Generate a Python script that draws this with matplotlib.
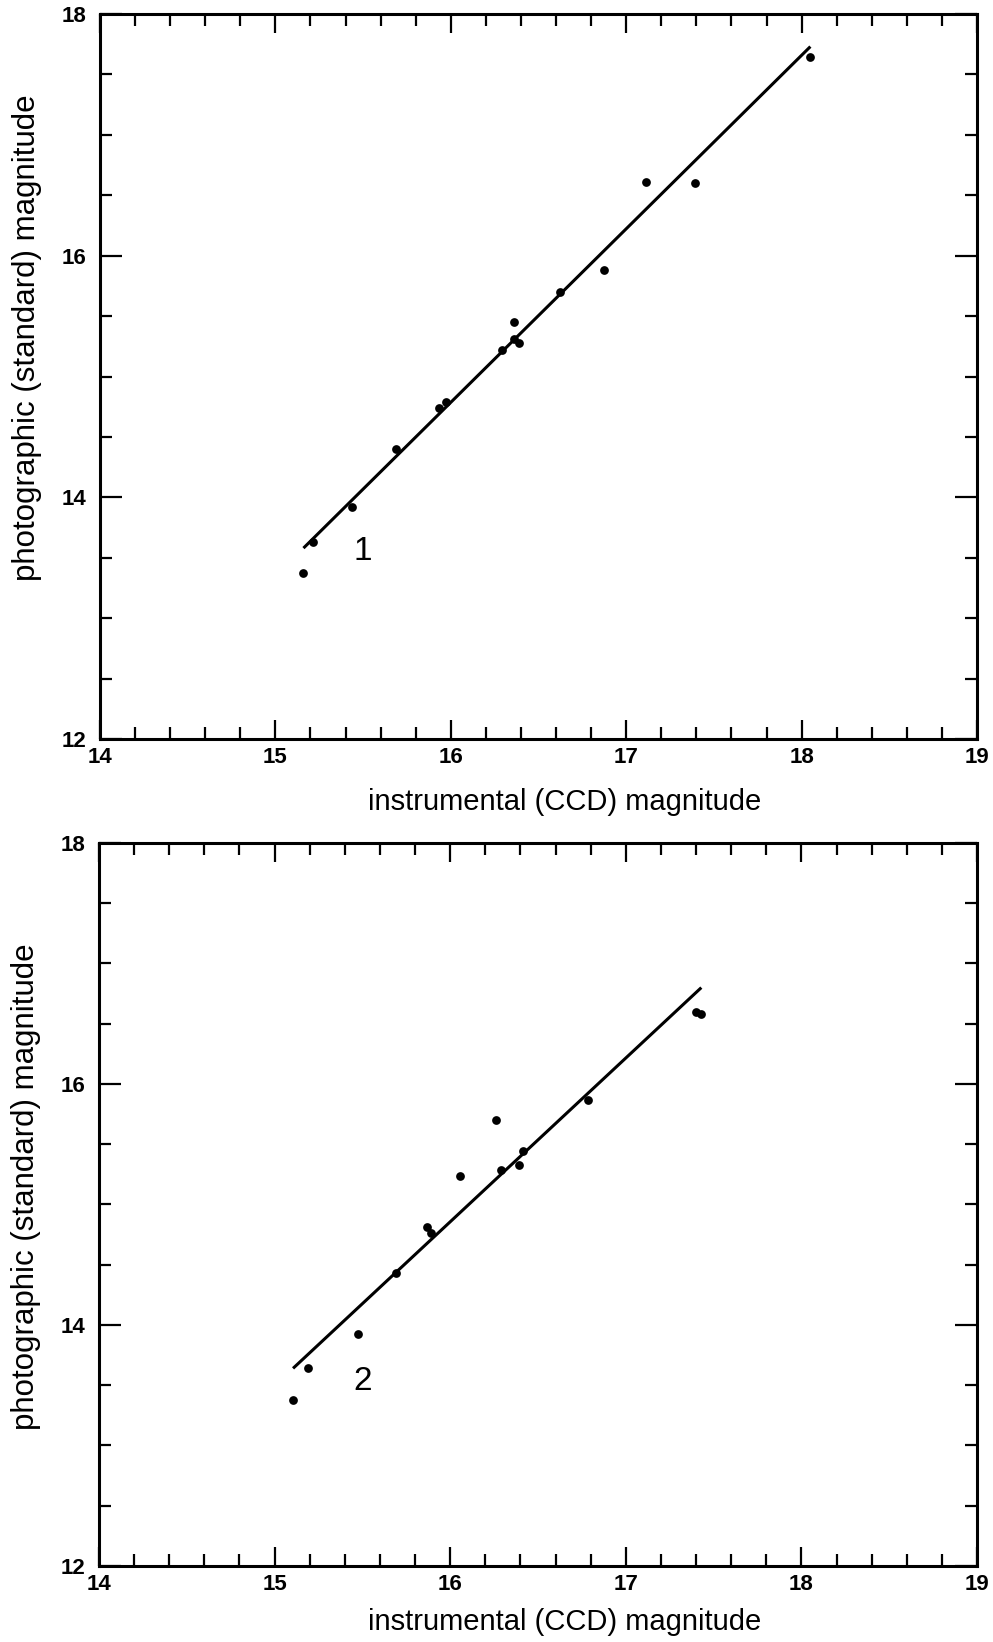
import matplotlib
matplotlib.use("Agg")
import matplotlib.pyplot as plt
from matplotlib.ticker import MultipleLocator

plt.rcParams['font.family'] = ['Liberation Sans', 'DejaVu Sans']

# Panel 1 data
ccd1 = [15.16, 15.215, 15.435, 15.69, 15.93, 15.97, 16.29, 16.36, 16.36, 16.39,
        16.62, 16.875, 17.11, 17.39, 18.05]
pg1 = [13.37, 13.63, 13.92, 14.40, 14.74, 14.79, 15.22, 15.45, 15.31, 15.28,
       15.70, 15.88, 16.61, 16.60, 17.64]
fit1_x = [15.16, 18.05]
fit1_y = [13.58, 17.73]

# Panel 2 data
ccd2 = [15.105, 15.19, 15.475, 15.69, 15.87, 15.89, 16.055, 16.26, 16.29, 16.39,
        16.415, 16.785, 17.40, 17.43]
pg2 = [13.38, 13.64, 13.925, 14.43, 14.81, 14.76, 15.24, 15.70, 15.29, 15.33,
       15.44, 15.87, 16.60, 16.585]
fit2_x = [15.105, 17.43]
fit2_y = [13.64, 16.80]

panel_labels = ["1", "2"]
label_pos_x = [15.50, 15.50]
label_pos_y = [13.55, 13.53]

xlabel = "instrumental (CCD) magnitude"
ylabel = "photographic (standard) magnitude"
xticks = [14, 15, 16, 17, 18, 19]
yticks = [12, 14, 16, 18]

fig = plt.figure(figsize=(9.93, 16.42), dpi=100)
ax1 = fig.add_axes([0.1007, 0.5499, 0.8832, 0.4416])
ax2 = fig.add_axes([0.0997, 0.0463, 0.8842, 0.4403])

panels = [(ax1, ccd1, pg1, fit1_x, fit1_y), (ax2, ccd2, pg2, fit2_x, fit2_y)]
ylabel_y = [0.553, 0.525]
xlabel_y = [-0.068, -0.058]
for i, (ax, xs, ys, fx, fy) in enumerate(panels):
    ax.plot(fx, fy, color='black', lw=2.2, solid_capstyle='butt')
    ax.plot(xs, ys, 'o', color='black', markersize=6.3, markeredgewidth=0)
    ax.text(label_pos_x[i], label_pos_y[i], panel_labels[i], fontsize=24,
            ha='center', va='center')
    ax.set_xlim(14, 19)
    ax.set_ylim(12, 18)
    ax.set_xticks(xticks)
    ax.set_yticks(yticks)
    ax.set_xticklabels([str(t) for t in xticks])
    ax.set_yticklabels([str(t) for t in yticks])
    ax.xaxis.set_minor_locator(MultipleLocator(0.2))
    ax.yaxis.set_minor_locator(MultipleLocator(0.5))
    ax.tick_params(axis='both', which='both', direction='in', top=True, right=True,
                   width=1.6, color='black', labelsize=16)
    ax.tick_params(axis='x', which='major', length=13.5, pad=6)
    ax.tick_params(axis='x', which='minor', length=8.5)
    ax.tick_params(axis='y', which='major', length=16, pad=10)
    ax.tick_params(axis='y', which='minor', length=8.5)
    for lab in ax.get_xticklabels() + ax.get_yticklabels():
        lab.set_fontweight('bold')
    for s in ax.spines.values():
        s.set_linewidth(2.2)
    ax.set_xlabel(xlabel, fontsize=21)
    ax.set_ylabel(ylabel, fontsize=22.5)
    ax.xaxis.set_label_coords(0.53, xlabel_y[i])
    ax.yaxis.set_label_coords(-0.066, ylabel_y[i])

fig.savefig("out.png", dpi=100)
